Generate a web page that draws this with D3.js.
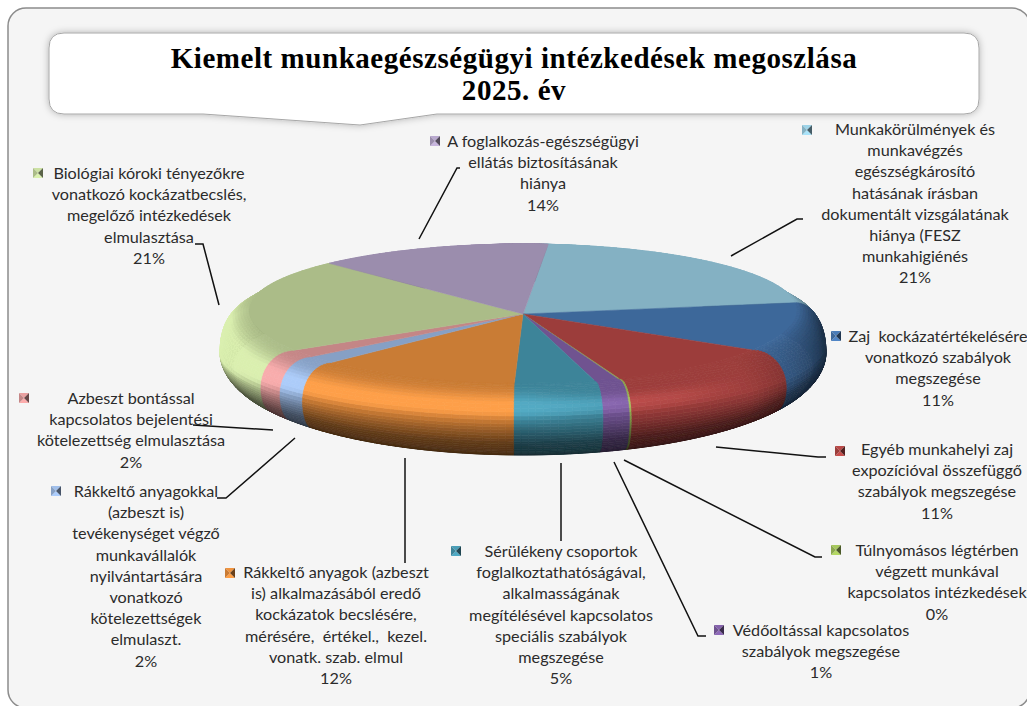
<!DOCTYPE html>
<html><head><meta charset="utf-8">
<script src="https://cdn.jsdelivr.net/npm/d3@7"></script>
<style>html,body{margin:0;padding:0;background:#fff;overflow:hidden}svg{display:block}
.lbl{font-family:Lato,sans-serif;font-size:16.2px;fill:#2b2b2b;text-anchor:middle;white-space:pre}
.ttl{font-family:"Liberation Serif",serif;font-weight:700;font-size:29px;fill:#000;text-anchor:middle;letter-spacing:.55px}
</style></head><body><div id="c"></div>
<script>
// Slice order: clockwise starting near the top of the pie.
const categories=[
 ["Munkakörülmények és","munkavégzés","egészségkárosító","hatásának írásban","dokumentált vizsgálatának","hiánya (FESZ","munkahigiénés"],
 ["Zaj  kockázatértékelésére","vonatkozó szabályok","megszegése"],
 ["Egyéb munkahelyi zaj","expozícióval összefüggő","szabályok megszegése"],
 ["Túlnyomásos légtérben","végzett munkával","kapcsolatos intézkedések"],
 ["Védőoltással kapcsolatos","szabályok megszegése"],
 ["Sérülékeny csoportok","foglalkoztathatóságával,","alkalmasságának","megítélésével kapcsolatos","speciális szabályok","megszegése"],
 ["Rákkeltő anyagok (azbeszt","is) alkalmazásából eredő","kockázatok becslésére,","mérésére,  értékel.,  kezel.","vonatk. szab. elmul"],
 ["Rákkeltő anyagokkal","(azbeszt is)","tevékenységet végző","munkavállalók","nyilvántartására","vonatkozó","kötelezettségek","elmulaszt."],
 ["Azbeszt bontással","kapcsolatos bejelentési","kötelezettség elmulasztása"],
 ["Biológiai kóroki tényezőkre","vonatkozó kockázatbecslés,","megelőző intézkedések","elmulasztása"],
 ["A foglalkozás-egészségügyi","ellátás biztosításának","hiánya"]
];
const shares=[21.8,11,10.1,0.1,1.4,4.7,11.8,1.7,1.75,21.8,14];
const percentLabels=["21%","11%","11%","0%","1%","5%","12%","2%","2%","21%","14%"];
const colors=["#84B1C3","#3E689A","#9C3D3B","#8CA84E","#6F5290","#3D8499","#C97B34","#86A0C5","#C48686","#ABBC88","#9B8DAD"];
const titleLines=["Kiemelt munkaegészségügyi intézkedések megoszlása","2025. év"];

// Label layout: centre x, first line y, key position, leader polyline.
const layout=[
 {x:915,y:135,kx:807,ky:130,lead:[[731,256],[797,219],[803,219]]},
 {x:938,y:342,kx:836,ky:336,lead:null},
 {x:937,y:455,kx:840,ky:451,lead:[[716,447],[818,457],[826,457]]},
 {x:937,y:556,kx:836,ky:550,lead:[[624,460],[815,557],[822,557]]},
 {x:821,y:636,kx:719,ky:630,lead:[[614,462],[698,636],[706,636]]},
 {x:561,y:557,kx:456,ky:551,lead:[[561,463],[561,541]]},
 {x:336,y:578,kx:230,ky:573,lead:[[405,458],[405,563]]},
 {x:146,y:497,kx:56,ky:491,lead:[[295,438],[226,498],[217,498]]},
 {x:131,y:404,kx:24,ky:398,lead:[[193,425],[273,430]]},
 {x:149,y:179,kx:38,ky:173,lead:[[219,305],[203,244],[195,244]]},
 {x:543,y:147,kx:435,ky:141,lead:[[419,239],[457,168],[460,168]]}
];
const LH=21.2;

const W=1027,H=706;
const svg=d3.select("#c").append("svg").attr("width",W).attr("height",H);
const defs=svg.append("defs");
const sh=defs.append("filter").attr("id","sh").attr("x","-5%").attr("y","-20%").attr("width","110%").attr("height","150%");
sh.append("feDropShadow").attr("dx",0).attr("dy",0).attr("stdDeviation",3.5).attr("flood-color","#000").attr("flood-opacity",.28);
defs.append("filter").attr("id","soft").attr("x","-5%").attr("y","-5%").attr("width","110%").attr("height","110%")
  .append("feGaussianBlur").attr("stdDeviation",.75);

// Frame
svg.append("rect").attr("x",8).attr("y",8).attr("width",1022).attr("height",700).attr("rx",18)
 .attr("fill","#F5F5F5").attr("stroke","#8c8c8c").attr("stroke-width",1.5);

// Title callout
const bx0=49,bx1=979,by0=33,by1=114,br=15;
const tp=d3.path();
tp.moveTo(bx0+br,by0);tp.lineTo(bx1-br,by0);tp.quadraticCurveTo(bx1,by0,bx1,by0+br);
tp.lineTo(bx1,by1-br);tp.quadraticCurveTo(bx1,by1,bx1-br,by1);
tp.lineTo(437,by1);tp.lineTo(360,125);tp.lineTo(203,by1);
tp.lineTo(bx0+br,by1);tp.quadraticCurveTo(bx0,by1,bx0,by1-br);tp.lineTo(bx0,by0+br);tp.quadraticCurveTo(bx0,by0,bx0+br,by0);tp.closePath();
svg.append("path").attr("d",tp.toString()).attr("fill","#fff").attr("stroke","#a8a8a8").attr("stroke-width",1).attr("filter","url(#sh)");
svg.selectAll("text.ttl").data(titleLines).join("text").attr("class","ttl").attr("x",514).attr("y",(d,i)=>68+i*32).text(d=>d);

// Pie geometry
const cx=523,apexY=314;
const Rf=274,Rm=303,Rb=290,DEG=Math.PI/180;
const flat=t=>{const c=Math.cos(t);return [cx+Rf*Math.sin(t),310-c*(c>0?66:73)];};
const front=t=>{const s=Math.sin(t);return t+5.5*DEG*Math.sin(2*t)*s*s;};
const warp=t=>Math.cos(t)>0?t-25*DEG*Math.sin(2*t):front(t);
const mid=t=>{const p=warp(t),c=Math.cos(p);return [cx+Rm*Math.sin(p),352-c*(c>0?108:72)];};
const bot=t=>{const p=Math.cos(t)>0?t:front(t);return [cx+Rb*Math.sin(p),368-87*Math.cos(p)];};
function surf(t,u){
  const F=flat(t),M=mid(t),B=bot(t);
  if(u<=.5){const a=u*Math.PI;return [F[0]+(M[0]-F[0])*Math.sin(a),F[1]+(M[1]-F[1])*(1-Math.cos(a))];}
  const b=(u-.5)*Math.PI;return [M[0]+(B[0]-M[0])*(1-Math.cos(b)),M[1]+(B[1]-M[1])*Math.sin(b)];
}
// Light strength round the rim (degrees clockwise from the back)
const lightAt=d3.scaleLinear().domain([0,60,90,125,150,180,225,270,315,360]).range([-.1,-.4,-1.2,-.25,.45,.85,.85,1.2,.6,-.1]);
const gain=d3.scaleLinear().domain([-2,-1,0,.36,1]).range([.3,.48,1,1.22,1.24]).clamp(true);
function shade(base,t,u){
  const deg=((t/DEG)%360+360)%360,L=lightAt(deg);
  const dark=Math.max(0,u-(.42+Math.max(0,L-.85)*.3))/.58*2;
  let v;
  if(L>0){const sg=.125*Math.max(.6,Math.pow(L/.85,2));const e=(u-.36)/sg;v=L*.45*Math.exp(-e*e);}
  else v=L*Math.sin(u*Math.PI);
  v-=dark;
  const g=gain(v),c=d3.rgb(base),add=g>1?(g-1)*40:0;
  return d3.rgb(Math.min(255,c.r*g+add),Math.min(255,c.g*g+add),Math.min(255,c.b*g+add)).formatHex();
}
const pie=d3.pie().sort(null).value(d=>d.v).startAngle(5.3*DEG).endAngle(365.3*DEG);
const arcs=pie(shares.map((v,i)=>({v,c:colors[i]})));
const dT=1.5*DEG,NU=32;
const line=d3.line();
const gPie=svg.append("g").attr("filter","url(#soft)");
// bevel bands, painted from bottom rim upward
for(let k=NU-1;k>=0;k--){
  const u0=k/NU,u1=(k+1)/NU,um=(u0+u1)/2;
  arcs.forEach(a=>{
    const n=Math.max(1,Math.ceil((a.endAngle-a.startAngle)/dT));
    for(let j=0;j<n;j++){
      const t0=a.startAngle+(a.endAngle-a.startAngle)*j/n,t1=a.startAngle+(a.endAngle-a.startAngle)*(j+1)/n;
      const col=shade(a.data.c,(t0+t1)/2,um);
      gPie.append("path").attr("d",line([surf(t0,u0),surf(t1,u0),surf(t1,u1),surf(t0,u1)])+"Z")
        .attr("fill",col).attr("stroke",col).attr("stroke-width",.7);
    }
  });
}
// flat top
arcs.forEach(a=>{
  const ts=d3.range(0,1.0001,1/Math.max(2,Math.ceil((a.endAngle-a.startAngle)/dT))).map(f=>a.startAngle+(a.endAngle-a.startAngle)*f);
  gPie.append("path").attr("d",line([[cx,apexY],...ts.map(flat)])+"Z")
    .attr("fill",a.data.c).attr("stroke",a.data.c).attr("stroke-width",.5);
});

// Leaders
const gLead=svg.append("g");
layout.forEach(l=>{ if(l.lead) gLead.append("path").attr("d",line(l.lead)).attr("fill","none").attr("stroke","#111").attr("stroke-width",1.5);});

// Labels
categories.forEach((lines,i)=>{
  const l=layout[i],g=svg.append("g");
  [...lines,percentLabels[i]].forEach((s,j)=>{
    g.append("text").attr("class","lbl").attr("x",l.x).attr("y",l.y+j*LH).text(s);
  });
  const c=d3.rgb(colors[i]),k=g.append("g").attr("transform",`translate(${l.kx},${l.ky})`),r=5;
  const tri=(pts,f)=>k.append("path").attr("d",line(pts)+"Z").attr("fill",f);
  tri([[-r,-r],[r,-r],[0,0]],c.brighter(.5).formatHex());
  tri([[-r,r],[r,r],[0,0]],c.brighter(.7).formatHex());
  tri([[-r,-r],[-r,r],[0,0]],c.formatHex());
  tri([[r,-r],[r,r],[0,0]],c.darker(1.8).formatHex());
});
</script></body></html>
